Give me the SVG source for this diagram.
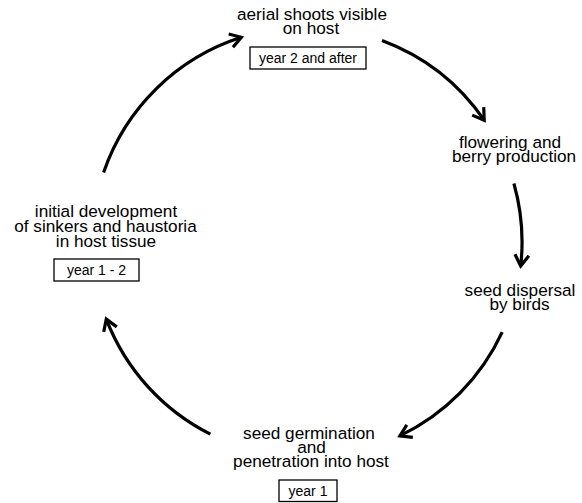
<svg xmlns="http://www.w3.org/2000/svg" width="582" height="503" viewBox="0 0 582 503">
<style>
.t{font-family:"Liberation Sans",Arial,sans-serif;font-size:17.2px;fill:#000;text-anchor:middle}
.b{font-family:"Liberation Sans",Arial,sans-serif;font-size:14px;fill:#000;text-anchor:middle}
.box{fill:#fff;stroke:#000;stroke-width:1.3}
.arc{fill:none;stroke:#000;stroke-width:3.2;marker-end:url(#ah)}
</style>
<defs>
<marker id="ah" markerUnits="userSpaceOnUse" markerWidth="30" markerHeight="30" refX="0" refY="0" orient="auto" overflow="visible">
<path d="M-11,-7 L0,0 L-11,7" fill="none" stroke="#000" stroke-width="3.2" stroke-linejoin="miter"/>
</marker>
</defs>
<rect width="582" height="503" fill="#fff"/>
<g id="connectors">
<path class="arc" d="M103.6,172.4 A215,215 0 0 1 241.3,37.3"/>
<path class="arc" d="M382,40.5 A215,215 0 0 1 484.2,120.2"/>
<path class="arc" d="M513.9,183.5 A215,215 0 0 1 520.7,266"/>
<path class="arc" d="M502.2,332.2 A215,215 0 0 1 399.9,435.9"/>
<path class="arc" d="M210.4,434.1 A215,215 0 0 1 106.3,319.1"/>
</g>
<g id="aerial">
<text class="t" x="312" y="20">aerial shoots visible</text>
<text class="t" x="311" y="34">on host</text>
<rect class="box" x="250" y="47" width="116" height="22"/>
<text class="b" x="308" y="63">year 2 and after</text>
</g>
<g id="flowering">
<text class="t" x="510" y="147.5">flowering and</text>
<text class="t" x="514" y="162">berry production</text>
</g>
<g id="dispersal">
<text class="t" x="520" y="295.5">seed dispersal</text>
<text class="t" x="519.5" y="310">by birds</text>
</g>
<g id="germination">
<text class="t" x="309" y="438.5">seed germination</text>
<text class="t" x="311.5" y="452.5">and</text>
<text class="t" x="311" y="467">penetration into host</text>
<rect class="box" x="279" y="480" width="58" height="21.5"/>
<text class="b" x="308" y="495.5">year 1</text>
</g>
<g id="development">
<text class="t" x="106" y="217">initial development</text>
<text class="t" x="105.5" y="232">of sinkers and haustoria</text>
<text class="t" x="106" y="246.5">in host tissue</text>
<rect class="box" x="54" y="259" width="85" height="22"/>
<text class="b" x="96.5" y="275">year 1 - 2</text>
</g>
</svg>
